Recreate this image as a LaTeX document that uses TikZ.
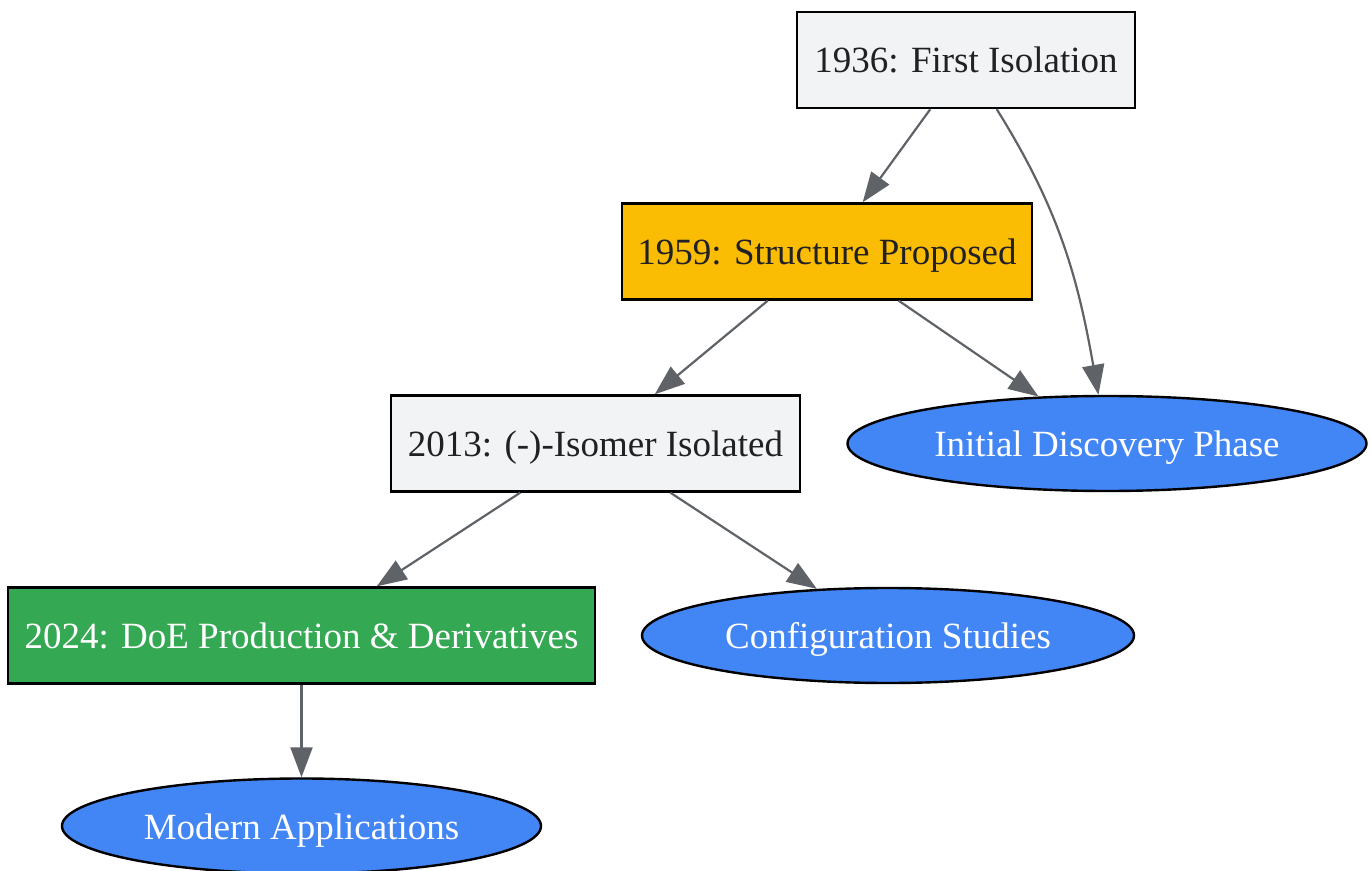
\documentclass[tikz,border=0pt]{standalone}
\usepackage{fontspec}
\setmainfont{Liberation Serif}
\usetikzlibrary{arrows.meta,shapes.geometric}
\definecolor{boxgray}{HTML}{F1F3F4}
\definecolor{boxgold}{HTML}{FBBC04}
\definecolor{boxgreen}{HTML}{34A853}
\definecolor{phaseblue}{HTML}{4285F4}
\definecolor{edgegray}{HTML}{5F6368}
\definecolor{textdark}{HTML}{202124}
\tikzset{
  event/.style={shape=rectangle, draw=black, line width=1.2pt, inner sep=0pt, minimum height=48pt, text height=14pt, text depth=1pt, text=textdark},
  phase/.style={shape=ellipse, draw=black, line width=1.2pt, inner sep=0pt, minimum height=47.5pt, text height=14pt, text depth=1pt, fill=phaseblue, text=white},
  link/.style={color=edgegray, line width=1.1pt, -{Triangle[length=15pt, width=11pt]}}
}
\begin{document}
\begin{tikzpicture}[x=0.5pt, y=-0.5pt, font=\fontsize{18.5}{22}\selectfont]
    \useasboundingbox (0,0) rectangle (1371,871);

    \node[event, fill=boxgray, minimum width=169pt] (A) at (966,60) {1936: First Isolation};
    \node[event, fill=boxgold, minimum width=205pt] (B) at (827,251.5) {1959: Structure Proposed};
    \node[event, fill=boxgray, minimum width=204.5pt] (C) at (595.5,443.5) {2013: (-)-Isomer Isolated};
    \node[event, fill=boxgreen, text=white, minimum width=293.5pt] (D) at (301.5,635.5) {2024: DoE Production \& Derivatives};

    \node[phase, minimum width=259.5pt] (E) at (1107,443.5) {Initial Discovery Phase};
    \node[phase, minimum width=246pt] (F) at (888,635.5) {Configuration Studies};
    \node[phase, minimum width=239.5pt] (G) at (301.5,826) {Modern Applications};

    \path [link] (A) edge (B);
    \path [link] (A) edge[out=-58, in=100] (E);
    \path [link] (B) edge (C);
    \path [link] (B) edge (E);
    \path [link] (C) edge (D);
    \path [link] (C) edge (F);
    \path [link] (D) edge (G);
\end{tikzpicture}
\end{document}
